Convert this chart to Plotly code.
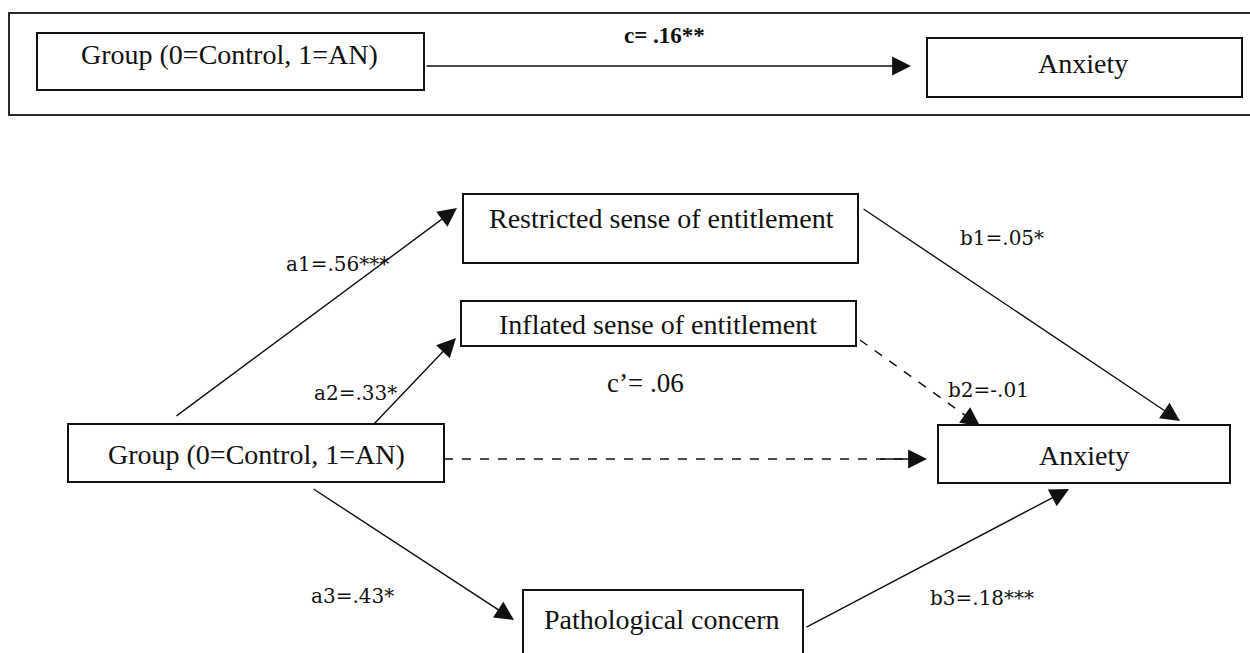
import plotly.graph_objects as go

# ---------------- data ----------------
node_labels = ["Group (0=Control, 1=AN)", "Restricted sense of entitlement",
               "Inflated sense of entitlement", "Pathological concern", "Anxiety"]
path_names = ["c", "a1", "a2", "a3", "b1", "b2", "b3", "c’"]
path_coefs = [0.16, 0.56, 0.33, 0.43, 0.05, -0.01, 0.18, 0.06]
path_stars = ["**", "***", "*", "*", "*", "", "***", ""]
path_significant = [True, True, True, True, True, False, True, False]


def fmt(v):
    s = f"{v:.2f}"
    return s.replace("0.", ".", 1)


def path_label(i):
    sep = " " if path_names[i].startswith("c") else ""
    return f"{path_names[i]}={sep}{fmt(path_coefs[i])}{path_stars[i]}"


# ---------------- layout (pixel space of the picture) ----------------
W, H = 1250, 653

boxes = {  # -> (x0, y0, x1, y1, text_x, text_y)
    "top_group": (37, 33, 424, 90, 229, 54),
    "top_anx": (927, 38, 1242, 97, 1083, 63),
    "group": (68, 424, 444, 482, 256, 454),
    "restr": (463, 194, 858, 263, 661, 218),
    "infl": (461, 301, 856, 346, 658, 324),
    "path": (523, 590, 803, 700, 662, 619),
    "anx": (938, 425, 1230, 483, 1084, 455),
}
box_node = {"top_group": 0, "top_anx": 4, "group": 0, "restr": 1,
            "infl": 2, "path": 3, "anx": 4}

# path index -> (start x, start y, tip x, tip y)
arrows = {
    0: (425, 66, 911, 66),
    1: (175, 417, 457, 208),
    2: (373, 425, 456, 338),
    3: (312, 488, 514, 620),
    4: (862, 208, 1180, 421),
    5: (860, 340, 980, 426),
    6: (805, 628, 1069, 489),
    7: (444, 459, 927, 459),
}
# path index -> label position (center)
label_pos = {0: (664, 35), 1: (337, 264), 2: (355, 393), 3: (352, 596),
             4: (1002, 238), 5: (988, 390), 6: (982, 598), 7: (645, 383)}

SERIF = "Liberation Serif, Times New Roman, serif"
LABSERIF = "DejaVu Serif, serif"
HEAD = dict(arrowhead=2, arrowsize=2.7, arrowwidth=1.4, arrowcolor="#111")

fig = go.Figure()
fig.add_trace(go.Scatter(x=[0, W], y=[0, H], mode="markers",
                         marker=dict(opacity=0), hoverinfo="skip", showlegend=False))

shapes = []
annotations = []

# outer frame around the total-effect model (open on the right)
shapes.append(dict(type="rect", xref="x", yref="y", x0=9, y0=13, x1=1275, y1=115,
                   line=dict(color="#2a2a2a", width=2), fillcolor="rgba(0,0,0,0)"))

for key, (x0, y0, x1, y1, tx, ty) in boxes.items():
    shapes.append(dict(type="rect", xref="x", yref="y", x0=x0, y0=y0, x1=x1, y1=y1,
                       line=dict(color="#111", width=2), fillcolor="white"))
    annotations.append(dict(x=tx, y=ty, xref="x", yref="y", text=node_labels[box_node[key]],
                            showarrow=False, font=dict(family=SERIF, size=28, color="#111"),
                            xanchor="center", yanchor="middle"))

for i, (sx, sy, ex, ey) in arrows.items():
    if path_significant[i]:
        annotations.append(dict(x=ex, y=ey, ax=sx, ay=sy, xref="x", yref="y",
                                axref="x", ayref="y", text="", showarrow=True, **HEAD))
    else:
        shapes.append(dict(type="line", xref="x", yref="y", x0=sx, y0=sy,
                           x1=ex - (ex - sx) * 0.04, y1=ey - (ey - sy) * 0.04,
                           line=dict(color="#111", width=1.5, dash="dash")))
        f = 0.1
        annotations.append(dict(x=ex, y=ey, ax=ex - (ex - sx) * f, ay=ey - (ey - sy) * f,
                                xref="x", yref="y", axref="x", ayref="y", text="",
                                showarrow=True, **HEAD))
    lx, ly = label_pos[i]
    is_c = path_names[i].startswith("c")
    if i == 0:
        font = dict(family=SERIF, size=23, color="#111", weight="bold")
    elif is_c:
        font = dict(family=SERIF, size=27, color="#111")
    else:
        font = dict(family=LABSERIF, size=20, color="#111")
    annotations.append(dict(x=lx, y=ly, xref="x", yref="y", text=path_label(i),
                            showarrow=False, font=font,
                            xanchor="center", yanchor="middle"))

fig.update_layout(
    width=W, height=H, margin=dict(l=0, r=0, t=0, b=0),
    paper_bgcolor="white", plot_bgcolor="white",
    xaxis=dict(range=[0, W], visible=False, fixedrange=True),
    yaxis=dict(range=[H, 0], visible=False, fixedrange=True),
    shapes=shapes, annotations=annotations, showlegend=False,
)
fig.write_html("out.html", config={"displayModeBar": False},
               post_script="document.body.style.margin='0';"
                           "document.body.style.overflow='hidden';")
